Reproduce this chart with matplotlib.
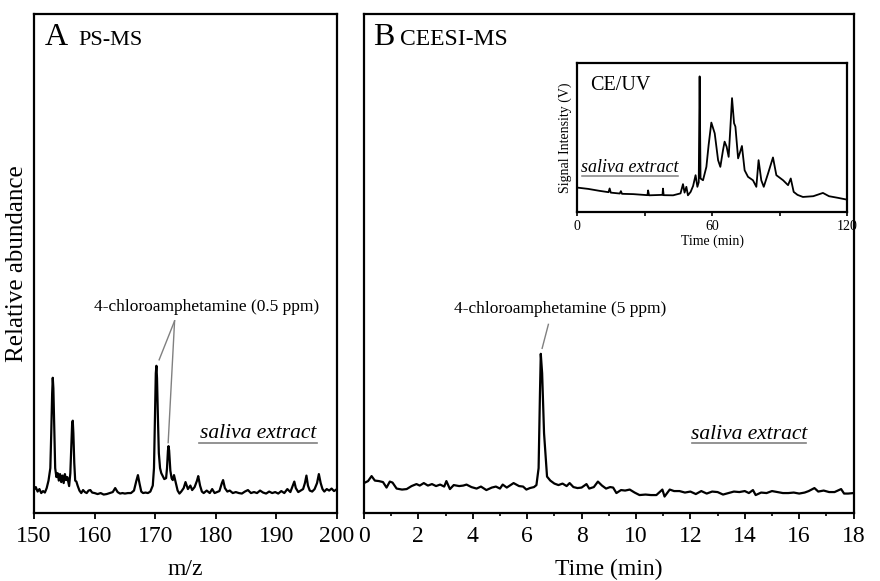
import matplotlib
matplotlib.use("Agg")
import matplotlib.pyplot as plt
from matplotlib.ticker import MultipleLocator

plt.rcParams['font.family'] = ['Liberation Serif', 'DejaVu Serif']

# panel A: PS-MS spectrum (m/z, relative abundance)
ps_mz = [150.0, 150.3, 150.6, 150.9, 151.2, 151.5, 151.8, 152.1, 152.4, 152.7,
         152.85, 153.0, 153.1, 153.2, 153.35, 153.5, 153.7, 153.9, 154.1, 154.3,
         154.5, 154.7, 154.9, 155.1, 155.3, 155.5, 155.8, 156.0, 156.15, 156.3,
         156.4, 156.5, 156.65, 156.8, 157.0, 157.2, 157.5, 157.8, 158.1, 158.4,
         158.7, 159.0, 159.3, 159.6, 160.0, 160.5, 161.0, 161.5, 162.0, 162.5,
         163.0, 163.4, 163.8, 164.2, 164.6, 165.0, 165.5, 166.0, 166.5, 166.9,
         167.15, 167.4, 167.7, 168.0, 168.4, 168.8, 169.2, 169.6, 169.8, 169.95,
         170.1, 170.2, 170.3, 170.45, 170.6, 170.8, 171.0, 171.2, 171.5, 171.8,
         171.95, 172.1, 172.2, 172.3, 172.5, 172.7, 172.9, 173.1, 173.4, 173.7,
         174.0, 174.3, 174.7, 175.0, 175.4, 175.8, 176.1, 176.5, 176.9, 177.1,
         177.4, 177.7, 178.0, 178.5, 179.0, 179.4, 179.8, 180.2, 180.6, 181.0,
         181.2, 181.5, 181.9, 182.3, 182.8, 183.3, 183.8, 184.3, 184.8, 185.3,
         185.8, 186.3, 186.8, 187.3, 187.8, 188.3, 188.8, 189.3, 189.8, 190.3,
         190.8, 191.3, 191.8, 192.3, 192.7, 192.95, 193.2, 193.6, 194.0, 194.4,
         194.7, 194.95, 195.2, 195.5, 195.9, 196.3, 196.7, 197.0, 197.3, 197.6,
         197.9, 198.3, 198.7, 199.1, 199.5, 200.0]
ps_int = [4.6, 5.2, 4.3, 4.8, 4.0, 4.4, 4.1, 5.0, 6.5, 9.0,
          16.0, 24.0, 27.1, 25.0, 17.0, 9.0, 7.2, 8.0, 6.5, 7.8,
          6.2, 7.5, 6.0, 7.8, 6.6, 7.2, 5.4, 8.0, 13.0, 18.0,
          18.5, 16.0, 10.0, 6.5, 6.3, 5.5, 4.5, 4.0, 4.6, 4.2,
          4.0, 4.5, 4.6, 4.1, 4.0, 3.8, 4.0, 3.7, 3.8, 4.0,
          4.2, 5.0, 4.2, 3.9, 4.0, 3.9, 4.0, 4.0, 4.5, 6.5,
          7.6, 6.0, 4.3, 4.0, 4.1, 4.0, 4.3, 5.5, 9.0, 18.0,
          28.0, 29.5, 27.0, 19.0, 12.0, 9.0, 8.0, 7.5, 6.8, 7.0,
          9.0, 12.5, 13.4, 12.5, 8.5, 7.0, 6.6, 7.6, 6.0, 4.5,
          3.9, 4.3, 5.0, 6.2, 4.8, 5.5, 4.6, 5.2, 6.5, 7.4,
          5.5, 4.3, 4.0, 4.5, 4.0, 4.8, 4.0, 4.2, 4.4, 6.0,
          6.6, 5.0, 4.3, 4.5, 4.0, 4.2, 4.0, 3.9, 4.3, 4.6,
          4.0, 4.2, 4.0, 4.5, 4.1, 3.9, 4.3, 4.0, 4.2, 3.9,
          4.4, 4.0, 4.8, 4.2, 5.5, 6.3, 5.0, 4.2, 4.5, 4.8,
          6.0, 7.5, 5.5, 4.5, 4.3, 4.8, 6.0, 7.8, 6.0, 4.8,
          4.3, 4.8, 4.5, 4.9, 4.4, 4.8]

# panel B: CEESI-MS trace (time in min, relative abundance)
ce_t = [0.0, 0.15, 0.28, 0.4, 0.55, 0.7, 0.83, 0.95, 1.05, 1.2,
        1.4, 1.57, 1.75, 1.93, 2.05, 2.2, 2.35, 2.5, 2.65, 2.8,
        2.95, 3.03, 3.16, 3.3, 3.5, 3.65, 3.77, 3.95, 4.14, 4.3,
        4.5, 4.7, 4.85, 5.0, 5.1, 5.25, 5.5, 5.7, 5.85, 5.97,
        6.1, 6.25, 6.34, 6.42, 6.47, 6.5, 6.55, 6.62, 6.73, 6.85,
        7.0, 7.15, 7.3, 7.45, 7.56, 7.7, 7.85, 8.0, 8.18, 8.28,
        8.45, 8.6, 8.75, 8.9, 9.05, 9.16, 9.28, 9.45, 9.6, 9.77,
        9.95, 10.13, 10.35, 10.55, 10.75, 10.97, 11.05, 11.24, 11.4, 11.6,
        11.8, 12.0, 12.2, 12.4, 12.6, 12.8, 13.0, 13.2, 13.4, 13.6,
        13.8, 14.0, 14.15, 14.3, 14.4, 14.6, 14.8, 15.0, 15.2, 15.4,
        15.6, 15.8, 16.0, 16.2, 16.35, 16.56, 16.7, 16.9, 17.1, 17.3,
        17.54, 17.65, 17.8, 18.0]
ce_int = [6.0, 6.4, 7.4, 6.5, 6.4, 6.2, 5.1, 6.3, 6.1, 4.9,
          4.7, 4.8, 5.4, 5.8, 5.5, 6.0, 5.5, 5.8, 5.4, 5.7,
          5.3, 6.4, 4.8, 5.6, 5.4, 5.5, 5.7, 5.2, 4.9, 5.3,
          4.6, 5.1, 5.3, 4.9, 5.7, 5.1, 6.0, 5.4, 5.3, 4.7,
          5.0, 5.2, 5.6, 9.0, 24.0, 31.9, 28.0, 16.0, 7.3, 6.5,
          5.9, 5.6, 5.9, 5.4, 6.0, 5.2, 5.0, 5.1, 5.8, 4.9,
          5.2, 6.3, 5.5, 4.9, 5.2, 5.1, 4.0, 4.6, 4.5, 4.7,
          4.1, 3.6, 3.7, 3.6, 3.6, 4.7, 3.3, 4.7, 4.4, 4.4,
          4.1, 4.3, 3.8, 4.4, 3.9, 4.3, 4.2, 3.7, 4.0, 4.3,
          4.2, 4.4, 4.0, 4.6, 3.6, 4.1, 4.0, 4.4, 4.2, 4.0,
          4.0, 4.1, 3.9, 4.1, 4.4, 5.0, 4.3, 4.5, 4.2, 4.2,
          4.8, 3.9, 3.9, 4.0]

# inset: CE/UV electropherogram (time in min, signal)
uv_t = [0, 5, 10, 14, 14.5, 15, 19, 19.5, 20, 25,
        31.3, 31.6, 32, 38, 38.2, 38.5, 42.7, 46, 47.1, 47.8,
        48.6, 49.3, 50.5, 51.6, 52.7, 53.5, 54.1, 54.5, 54.9, 56.0,
        57.5, 58.5, 59.7, 61.2, 62.7, 63.7, 64.9, 65.6, 66.5, 67.4,
        68.1, 68.9, 69.8, 70.4, 71.6, 72.3, 73.3, 74.5, 76, 78.2,
        79.7, 80.7, 81.9, 83, 84.9, 87.1, 88.6, 91.6, 93.8, 95,
        96.3, 98, 100.4, 105, 109.3, 112, 116, 120]
uv_sig = [16.4, 15.5, 14.2, 13.3, 15.8, 13.0, 12.4, 14.0, 12.2, 12.0,
          11.3, 14.5, 11.2, 11.5, 15.7, 11.3, 11.2, 12.5, 18.7, 13.0,
          16.9, 11.2, 13.5, 17.5, 24.7, 16.9, 20.0, 91.0, 22.5, 21.3,
          30.3, 45.0, 60.0, 52.8, 34.8, 30.3, 41.6, 47.2, 43.8, 37.0,
          55.0, 76.4, 59.6, 57.3, 36.0, 39.3, 44.3, 28.0, 23.6, 21.3,
          16.9, 34.8, 21.3, 16.9, 25.8, 36.6, 24.7, 21.3, 18.0, 22.5,
          13.5, 11.5, 10.1, 10.6, 12.8, 10.6, 9.5, 8.3]

fig = plt.figure(figsize=(8.8, 5.81), dpi=100)
axA = fig.add_axes([0.0386, 0.117, 0.3444, 0.859])
axB = fig.add_axes([0.4136, 0.117, 0.5564, 0.859])
axI = fig.add_axes([0.6557, 0.6351, 0.3068, 0.2565])

grey = '#808080'

for ax in (axA, axB, axI):
    for s in ax.spines.values():
        s.set_linewidth(1.6)
    ax.set_yticks([])

# --- panel A ---
axA.plot(ps_mz, ps_int, color='black', lw=1.6)
axA.set_xlim(150, 200)
axA.set_ylim(0, 100)
axA.xaxis.set_major_locator(MultipleLocator(10))
axA.tick_params(axis='x', direction='out', length=4, width=1.3, pad=5, labelsize=17)
axA.set_xlabel('m/z', fontsize=17, labelpad=9)
axA.set_ylabel('Relative abundance', fontsize=18)
axA.yaxis.set_label_coords(-0.02, 0.5)
axA.text(0.036, 0.938, 'A', transform=axA.transAxes, fontsize=23, va='baseline')
axA.text(0.145, 0.938, 'PS-MS', transform=axA.transAxes, fontsize=16, va='baseline')
axA.text(178.5, 40.5, '4-chloroamphetamine (0.5 ppm)', fontsize=12.5,
         ha='center', va='baseline')
axA.plot([173.2, 170.65], [38.5, 30.7], color=grey, lw=1)
axA.plot([173.2, 172.14], [38.5, 14.1], color=grey, lw=1)
axA.text(0.739, 0.150, 'saliva extract', transform=axA.transAxes, fontsize=15.5,
         style='italic', ha='center', va='baseline')
axA.plot([0.545, 0.934], [0.140, 0.140], transform=axA.transAxes, color=grey, lw=1.2)

# --- panel B ---
axB.plot(ce_t, ce_int, color='black', lw=1.6)
axB.set_xlim(0, 18)
axB.set_ylim(0, 100)
axB.xaxis.set_major_locator(MultipleLocator(2))
axB.xaxis.set_minor_locator(MultipleLocator(1))
axB.tick_params(axis='x', which='major', direction='out', length=4, width=1.3, pad=5, labelsize=17)
axB.tick_params(axis='x', which='minor', direction='out', length=2, width=1.2)
axB.set_xlabel('Time (min)', fontsize=17, labelpad=9)
axB.text(0.018, 0.938, 'B', transform=axB.transAxes, fontsize=23, va='baseline')
axB.text(0.074, 0.938, 'CEESI-MS', transform=axB.transAxes, fontsize=17, va='baseline')
axB.text(7.2, 40.0, '4-chloroamphetamine (5 ppm)', fontsize=12.5,
         ha='center', va='baseline')
axB.plot([6.78, 6.55], [37.8, 33.0], color=grey, lw=1)
axB.text(0.786, 0.148, 'saliva extract', transform=axB.transAxes, fontsize=15.5,
         style='italic', ha='center', va='baseline')
axB.plot([0.669, 0.903], [0.140, 0.140], transform=axB.transAxes, color=grey, lw=1.2)

# --- inset ---
axI.plot(uv_t, uv_sig, color='black', lw=1.3)
axI.set_xlim(0, 120)
axI.set_ylim(0, 100)
axI.xaxis.set_major_locator(MultipleLocator(60))
axI.xaxis.set_minor_locator(MultipleLocator(30))
axI.tick_params(axis='x', which='major', direction='out', length=3, width=1.2, pad=3, labelsize=10)
axI.tick_params(axis='x', which='minor', direction='out', length=3, width=1.2)
axI.set_xlabel('Time (min)', fontsize=10, labelpad=1)
axI.set_ylabel('Signal Intensity (V)', fontsize=10)
axI.yaxis.set_label_coords(-0.02, 0.5)
axI.text(0.048, 0.82, 'CE/UV', transform=axI.transAxes, fontsize=14.5, va='baseline')
axI.text(0.196, 0.27, 'saliva extract', transform=axI.transAxes, fontsize=13,
         style='italic', ha='center', va='baseline')
axI.plot([0.017, 0.375], [0.242, 0.242], transform=axI.transAxes, color=grey, lw=1.1)

fig.savefig('out.png', dpi=100, facecolor='white')
